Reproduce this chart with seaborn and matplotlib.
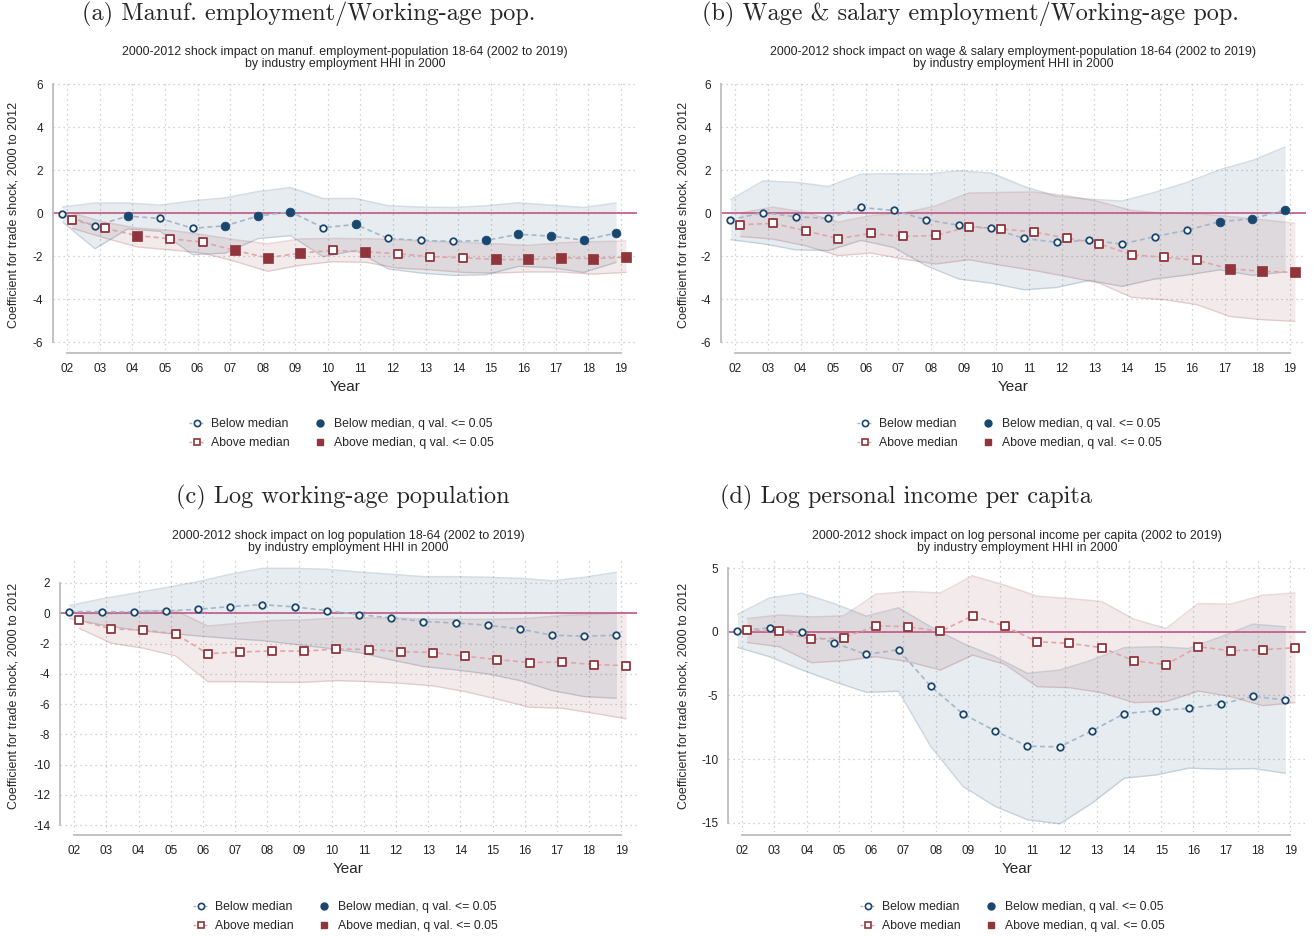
import numpy as np
import pandas as pd
import matplotlib
matplotlib.use("Agg")
import matplotlib.pyplot as plt
from matplotlib.lines import Line2D
import seaborn as sns

W, H = 1314, 936

YEARS = [2002, 2003, 2004, 2005, 2006, 2007, 2008, 2009, 2010,
         2011, 2012, 2013, 2014, 2015, 2016, 2017, 2018, 2019]
YEAR_LABELS = ["02", "03", "04", "05", "06", "07", "08", "09", "10",
               "11", "12", "13", "14", "15", "16", "17", "18", "19"]

# (a) manufacturing employment / working-age pop
MANUF_BELOW = [-0.06, -0.60, -0.14, -0.25, -0.71, -0.59, -0.14, 0.06, -0.68,
               -0.53, -1.18, -1.27, -1.32, -1.27, -0.99, -1.07, -1.26, -0.93]
MANUF_BELOW_HI = [0.28, 0.47, 0.47, 0.37, 0.57, 0.71, 1.00, 1.19, 0.68,
                  0.68, 0.34, 0.28, 0.26, 0.34, 0.48, 0.37, 0.26, 0.47]
MANUF_BELOW_LO = [-0.42, -1.66, -0.74, -0.85, -1.94, -1.86, -1.19, -1.05, -2.03,
                  -1.74, -2.60, -2.79, -2.90, -2.87, -2.48, -2.54, -2.76, -2.29]
MANUF_BELOW_SIG = [0, 0, 1, 0, 0, 1, 1, 1, 0, 1, 0, 0, 0, 1, 1, 1, 1, 1]
MANUF_ABOVE = [-0.31, -0.71, -1.05, -1.19, -1.35, -1.74, -2.08, -1.86, -1.74,
               -1.80, -1.89, -2.03, -2.08, -2.16, -2.16, -2.08, -2.12, -2.05]
MANUF_ABOVE_HI = [0.00, -0.43, -0.70, -0.80, -1.00, -1.24, -1.43, -1.20, -1.18,
                  -1.19, -1.24, -1.32, -1.36, -1.43, -1.50, -1.38, -1.33, -1.30]
MANUF_ABOVE_LO = [-0.71, -1.16, -1.58, -1.71, -1.86, -2.25, -2.71, -2.43, -2.26,
                  -2.29, -2.56, -2.64, -2.76, -2.79, -2.74, -2.74, -2.84, -2.76]
MANUF_ABOVE_SIG = [0, 0, 1, 0, 0, 1, 1, 1, 0, 1, 0, 0, 0, 1, 1, 1, 1, 1]

# (b) wage & salary employment / working-age pop
WAGE_BELOW = [-0.31, 0.02, -0.17, -0.25, 0.26, 0.12, -0.31, -0.57, -0.71,
              -1.18, -1.36, -1.26, -1.44, -1.10, -0.79, -0.40, -0.26, 0.14]
WAGE_BELOW_HI = [0.62, 1.50, 1.43, 1.24, 1.81, 1.83, 1.81, 1.97, 1.86,
                 1.24, 0.78, 0.65, 0.56, 0.96, 1.43, 2.02, 2.45, 3.07]
WAGE_BELOW_LO = [-1.24, -1.43, -1.71, -1.74, -1.27, -1.60, -2.45, -3.07, -3.26,
                 -3.57, -3.46, -3.13, -3.41, -3.07, -2.88, -2.64, -2.90, -2.74]
WAGE_BELOW_SIG = [0, 0, 0, 0, 0, 0, 0, 0, 0, 0, 0, 0, 0, 0, 0, 1, 1, 1]
WAGE_ABOVE = [-0.54, -0.48, -0.82, -1.19, -0.95, -1.09, -1.04, -0.64, -0.74,
              -0.88, -1.16, -1.43, -1.94, -2.06, -2.20, -2.59, -2.71, -2.76]
WAGE_ABOVE_HI = [0.00, 0.28, 0.03, -0.42, -0.12, 0.00, 0.34, 0.93, 0.96,
                 0.98, 0.81, 0.53, 0.12, 0.00, -0.03, -0.16, -0.31, -0.47]
WAGE_ABOVE_LO = [-1.09, -1.21, -1.52, -1.98, -1.86, -2.14, -2.37, -2.17, -2.43,
                 -2.67, -2.95, -3.26, -3.92, -4.03, -4.26, -4.81, -4.96, -5.04]
WAGE_ABOVE_SIG = [0, 0, 0, 0, 0, 0, 0, 0, 0, 0, 0, 0, 0, 0, 0, 1, 1, 1]

# (c) log working-age population
POP_BELOW = [0.11, 0.11, 0.09, 0.15, 0.26, 0.44, 0.57, 0.42, 0.18,
             -0.09, -0.31, -0.55, -0.64, -0.79, -1.04, -1.45, -1.52, -1.45]
POP_BELOW_HI = [0.51, 0.95, 1.32, 1.70, 2.09, 2.58, 2.97, 2.97, 2.91,
                2.73, 2.58, 2.42, 2.42, 2.38, 2.31, 2.15, 2.38, 2.71]
POP_BELOW_LO = [-0.35, -0.77, -1.10, -1.32, -1.50, -1.67, -1.81, -2.05, -2.31,
                -2.60, -3.08, -3.52, -3.74, -4.01, -4.45, -5.11, -5.51, -5.62]
POP_BELOW_SIG = [0] * 18
POP_ABOVE = [-0.44, -1.04, -1.10, -1.37, -2.67, -2.56, -2.49, -2.51, -2.36,
             -2.40, -2.53, -2.60, -2.84, -3.06, -3.26, -3.22, -3.39, -3.46]
POP_ABOVE_HI = [0.00, -0.04, 0.18, 0.18, -0.84, -0.66, -0.48, -0.44, -0.31,
                -0.31, -0.33, -0.40, -0.40, -0.40, -0.33, -0.15, -0.07, 0.04]
POP_ABOVE_LO = [-0.99, -1.98, -2.31, -2.82, -4.52, -4.52, -4.56, -4.56, -4.45,
                -4.52, -4.63, -4.80, -5.18, -5.68, -6.21, -6.28, -6.61, -6.98]
POP_ABOVE_SIG = [0] * 18

# (d) log personal income per capita
INC_BELOW = [0.05, 0.31, -0.03, -0.86, -1.78, -1.41, -4.28, -6.45, -7.78,
             -8.98, -9.03, -7.78, -6.42, -6.19, -6.01, -5.67, -5.07, -5.35]
INC_BELOW_HI = [1.36, 2.66, 3.03, 2.22, 1.23, 1.88, 0.39, -0.91, -1.96,
                -3.26, -3.00, -2.22, -1.25, -1.17, -1.31, -0.39, 0.60, 0.39]
INC_BELOW_LO = [-1.23, -1.96, -3.00, -3.92, -4.75, -4.67, -9.01, -12.14, -13.71,
                -14.75, -15.07, -13.45, -11.49, -11.23, -10.70, -10.78, -10.73, -11.10]
INC_BELOW_SIG = [0] * 18
INC_ABOVE = [0.13, 0.05, -0.60, -0.47, 0.47, 0.39, 0.03, 1.25, 0.44,
             -0.78, -0.91, -1.25, -2.27, -2.58, -1.17, -1.49, -1.41, -1.25]
INC_ABOVE_HI = [1.04, 1.31, 1.17, 1.25, 2.95, 3.16, 3.05, 4.39, 3.66,
                2.79, 2.61, 2.38, 0.99, 0.26, 2.22, 2.17, 2.87, 3.05]
INC_ABOVE_LO = [-0.84, -1.17, -2.43, -2.27, -1.96, -2.35, -3.00, -1.83, -2.56,
                -4.31, -4.39, -4.78, -5.56, -5.48, -4.65, -5.09, -5.80, -5.56]
INC_ABOVE_SIG = [0] * 18

NAVY = "#1a476f"
MAROON = "#90353b"
NAVY_DASH = "#a3b7cb"
MAROON_DASH = "#dea6ab"
ZERO_LINE = "#c2638c"
AXIS_GREY = "#bdbdbd"

LEGEND_LABELS = ["Below median", "Above median",
                 "Below median, q val. <= 0.05", "Above median, q val. <= 0.05"]


def make_frame(below, lo_b, hi_b, sig_b, above, lo_a, hi_a, sig_a):
    yr = np.array(YEARS) - 2000
    a = pd.DataFrame({"x": yr - 0.15, "coef": below, "lo": lo_b, "hi": hi_b,
                      "sig": sig_b, "group": "Below median"})
    b = pd.DataFrame({"x": yr + 0.15, "coef": above, "lo": lo_a, "hi": hi_a,
                      "sig": sig_a, "group": "Above median"})
    return pd.concat([a, b], ignore_index=True)


PANELS = [
    dict(df=make_frame(MANUF_BELOW, MANUF_BELOW_LO, MANUF_BELOW_HI, MANUF_BELOW_SIG,
                       MANUF_ABOVE, MANUF_ABOVE_LO, MANUF_ABOVE_HI, MANUF_ABOVE_SIG),
         title="(a) Manuf. employment/Working-age pop.",
         sub="2000-2012 shock impact on manuf. employment-population 18-64 (2002 to 2019)\nby industry employment HHI in 2000",
         box=(53, 637, 80, 350), ylim=(-6.37, 6.19), yticks=[-6, -4, -2, 0, 2, 4, 6],
         title_xy=(309, 14), sub_y=58, ylab_x=14, leg=(189, 418)),
    dict(df=make_frame(WAGE_BELOW, WAGE_BELOW_LO, WAGE_BELOW_HI, WAGE_BELOW_SIG,
                       WAGE_ABOVE, WAGE_ABOVE_LO, WAGE_ABOVE_HI, WAGE_ABOVE_SIG),
         title="(b) Wage & salary employment/Working-age pop.",
         sub="2000-2012 shock impact on wage & salary employment-population 18-64 (2002 to 2019)\nby industry employment HHI in 2000",
         box=(721, 1306, 80, 350), ylim=(-6.37, 6.19), yticks=[-6, -4, -2, 0, 2, 4, 6],
         title_xy=(970, 14), sub_y=58, ylab_x=683, leg=(857, 418)),
    dict(df=make_frame(POP_BELOW, POP_BELOW_LO, POP_BELOW_HI, POP_BELOW_SIG,
                       POP_ABOVE, POP_ABOVE_LO, POP_ABOVE_HI, POP_ABOVE_SIG),
         title="(c) Log working-age population",
         sub="2000-2012 shock impact on log population 18-64 (2002 to 2019)\nby industry employment HHI in 2000",
         box=(60, 637, 560, 832), ylim=(-14.46, 3.52), yticks=list(range(-14, 3, 2)),
         title_xy=(343, 497), sub_y=542, ylab_x=14, leg=(193, 901)),
    dict(df=make_frame(INC_BELOW, INC_BELOW_LO, INC_BELOW_HI, INC_BELOW_SIG,
                       INC_ABOVE, INC_ABOVE_LO, INC_ABOVE_HI, INC_ABOVE_SIG),
         title="(d) Log personal income per capita",
         sub="2000-2012 shock impact on log personal income per capita (2002 to 2019)\nby industry employment HHI in 2000",
         box=(728, 1306, 560, 832), ylim=(-15.71, 5.63), yticks=[-15, -10, -5, 0, 5],
         title_xy=(906, 497), sub_y=542, ylab_x=683, leg=(860, 901)),
]


def draw_panel(fig, p):
    l, r, t, b = p["box"]
    ax = fig.add_axes([l / W, 1 - b / H, (r - l) / W, (b - t) / H])
    df = p["df"]
    styles = {"Below median": (NAVY, NAVY_DASH, "o", 22, 40),
              "Above median": (MAROON, MAROON_DASH, "s", 26, 46)}

    # confidence bands
    for grp, (col, dash_col, mk, s_open, s_fill) in styles.items():
        d = df[df["group"] == grp]
        ax.fill_between(d["x"], d["lo"], d["hi"], color=col, alpha=0.1, lw=0, zorder=1)
        ax.plot(d["x"], d["lo"], color=col, alpha=0.18, lw=1, zorder=1)
        ax.plot(d["x"], d["hi"], color=col, alpha=0.18, lw=1, zorder=1)

    ax.axhline(0, color=ZERO_LINE, lw=1.3, zorder=2)

    # point estimates
    for grp, (col, dash_col, mk, s_open, s_fill) in styles.items():
        d = df[df["group"] == grp]
        sns.lineplot(data=d, x="x", y="coef", color=dash_col, lw=1.2,
                     linestyle=(0, (3, 2)), ax=ax, zorder=3, legend=False)
        sns.scatterplot(data=d[d["sig"] == 0], x="x", y="coef", marker=mk, s=s_open,
                        facecolor="white", edgecolor=col, linewidth=1.3,
                        ax=ax, zorder=4, legend=False)
        sns.scatterplot(data=d[d["sig"] == 1], x="x", y="coef", marker=mk, s=s_fill,
                        color=col, edgecolor=col, linewidth=0.5,
                        ax=ax, zorder=4, legend=False)

    ax.set_xlim(1.56, 19.49)
    ax.set_ylim(*p["ylim"])
    ax.set_xticks(np.array(YEARS) - 2000)
    ax.set_xticklabels(YEAR_LABELS)
    ax.set_yticks(p["yticks"])
    ax.set_xlabel("")
    ax.set_ylabel("")
    ax.grid(True, ls=(0, (1, 3)), color="#c4c4c4", lw=0.9)
    ax.set_axisbelow(True)

    for side in ["top", "right"]:
        ax.spines[side].set_visible(False)
    ax.spines["left"].set_bounds(p["yticks"][0], p["yticks"][-1])
    ax.spines["bottom"].set_bounds(2, 19)
    ax.spines["bottom"].set_position(("outward", 2))
    for side in ["left", "bottom"]:
        ax.spines[side].set_color(AXIS_GREY)
        ax.spines[side].set_linewidth(1.3)
    ax.tick_params(axis="both", length=4, width=1, color=AXIS_GREY,
                   labelsize=8.5, labelcolor="#222222", pad=3)

    cx = (l + r) / 2
    fig.text(p["title_xy"][0] / W, 1 - p["title_xy"][1] / H, p["title"],
             family="cmr10", fontsize=17.5, ha="center", va="center")
    fig.text(cx / W, 1 - p["sub_y"] / H, p["sub"], fontsize=8.9,
             ha="center", va="center", linespacing=0.95)
    fig.text(p["ylab_x"] / W, 1 - ((t + b) / 2) / H,
             "Coefficient for trade shock, 2000 to 2012", fontsize=9,
             rotation=90, ha="center", va="center")
    fig.text(cx / W, 1 - (b + 37) / H, "Year", fontsize=11, ha="center", va="center")

    handles = [
        Line2D([], [], color=NAVY_DASH, ls=(0, (2, 2)), lw=1, marker="o", ms=4.5,
               mfc="white", mec=NAVY, mew=1.2),
        Line2D([], [], color=MAROON_DASH, ls=(0, (2, 2)), lw=1, marker="s", ms=4.5,
               mfc="white", mec=MAROON, mew=1.2),
        Line2D([], [], ls="none", marker="o", ms=5, color=NAVY),
        Line2D([], [], ls="none", marker="s", ms=5, color=MAROON),
    ]
    lx, ly = p["leg"]
    ax.legend(handles, LEGEND_LABELS, loc="upper left",
              bbox_to_anchor=(lx / W, 1 - ly / H), bbox_transform=fig.transFigure,
              ncol=2, frameon=False, fontsize=8.8, handlelength=1.3,
              handletextpad=0.5, columnspacing=1.8, labelspacing=0.58,
              borderpad=0, borderaxespad=0)
    return ax


if __name__ == "__main__":
    sns.set_style("white")
    plt.rcParams["font.family"] = ["Liberation Sans", "DejaVu Sans"]
    plt.rcParams["axes.unicode_minus"] = False

    fig = plt.figure(figsize=(W / 100, H / 100), dpi=100)
    for p in PANELS:
        draw_panel(fig, p)
    fig.savefig("out.png", dpi=100)
    plt.close(fig)
